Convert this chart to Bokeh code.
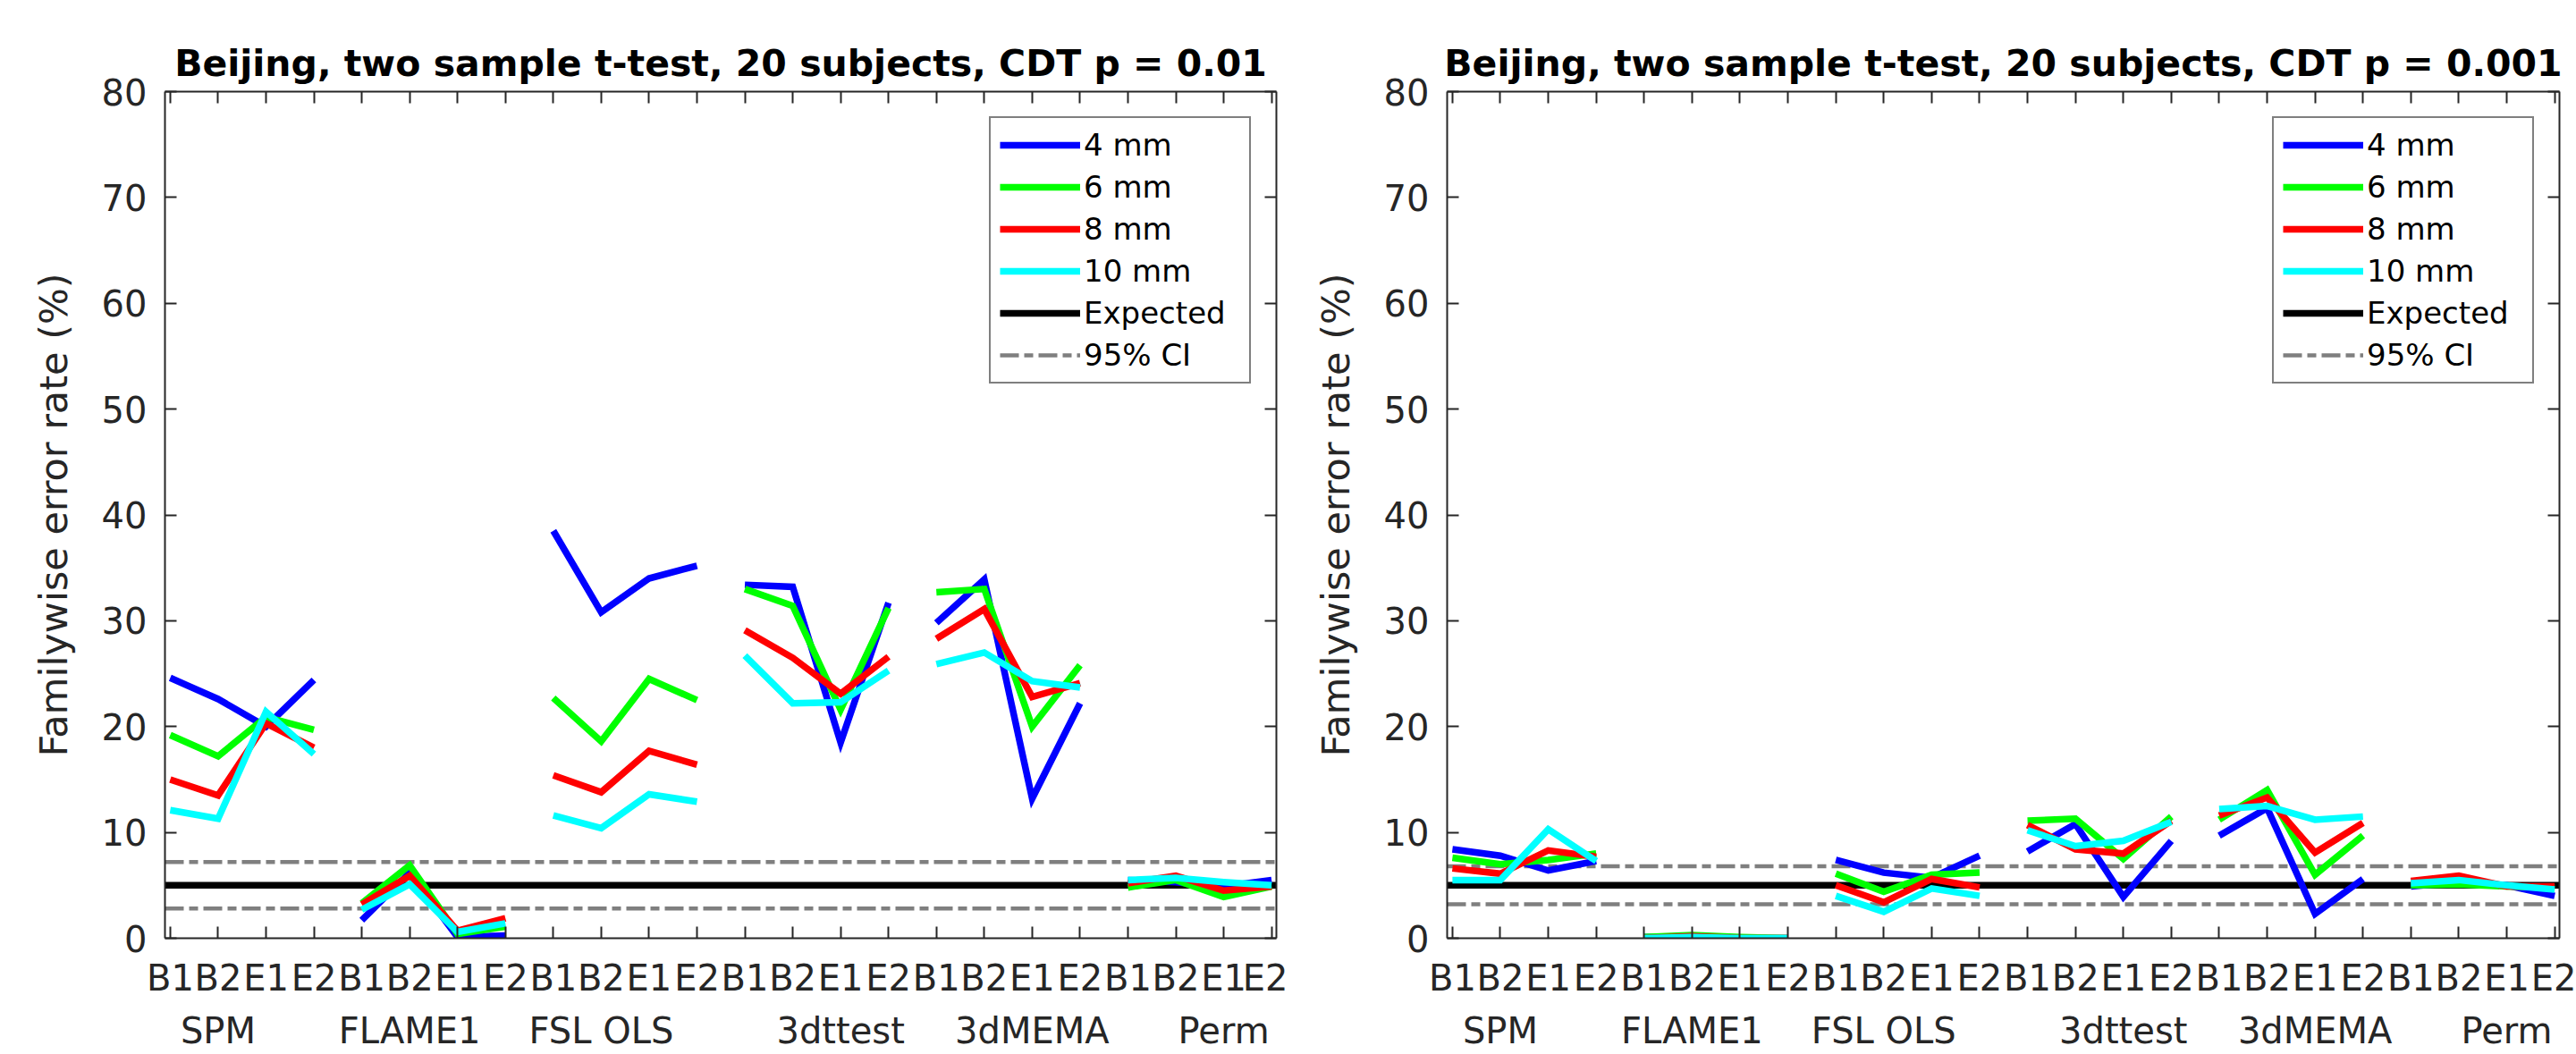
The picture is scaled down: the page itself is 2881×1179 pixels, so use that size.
from bokeh.plotting import figure
from bokeh.models import Range1d, LinearAxis, FixedTicker, Legend, LegendItem
from bokeh.layouts import row
from bokeh.embed import file_html
from bokeh.resources import INLINE

# ---------------- data ----------------
methods = ["SPM", "FLAME1", "FSL OLS", "3dttest", "3dMEMA", "Perm"]
conditions = ["B1", "B2", "E1", "E2"]
group_label_tick = [2, 6, 10, 15, 19, 23]   # tick under which each method name sits
smoothing_labels = ["4 mm", "6 mm", "8 mm", "10 mm"]
series_colors = ["#0000ff", "#00ff00", "#ff0000", "#00ffff"]
y_ticks = [0, 10, 20, 30, 40, 50, 60, 70, 80]

expected_rate = 5.0
ci_p01 = [2.8, 7.2]
ci_p001 = [3.2, 6.8]

# CDT p = 0.01  (SPM, FLAME1, FSL OLS, 3dttest, 3dMEMA, Perm) x (B1, B2, E1, E2)
p01_4mm = [24.6, 22.6, 20.0, 24.4,  1.7, 6.2, 0.1, 0.25,  38.5, 30.8, 34.0, 35.2,
           33.4, 33.2, 18.5, 31.7,  29.8, 33.9, 13.2, 22.2,  5.5, 5.3, 4.9, 5.5]
p01_6mm = [19.2, 17.2, 20.9, 19.7,  3.3, 6.9, 0.4, 1.1,  22.7, 18.6, 24.5, 22.5,
           33.0, 31.4, 21.6, 31.2,  32.7, 33.0, 20.0, 25.8,  4.8, 5.5, 3.9, 4.9]
p01_8mm = [15.0, 13.5, 20.3, 18.0,  3.2, 5.9, 0.7, 1.9,  15.4, 13.8, 17.7, 16.4,
           29.1, 26.5, 23.1, 26.6,  28.3, 31.1, 22.8, 24.1,  5.2, 5.9, 4.5, 4.9]
p01_10mm = [12.1, 11.3, 21.4, 17.4,  2.7, 5.1, 0.6, 1.4,  11.6, 10.4, 13.6, 12.9,
            26.7, 22.2, 22.3, 25.3,  25.9, 27.0, 24.3, 23.7,  5.5, 5.7, 5.3, 5.0]

# CDT p = 0.001
p001_4mm = [8.4, 7.8, 6.4, 7.3,  0.1, 0.1, 0.0, 0.0,  7.4, 6.2, 5.7, 7.8,
            8.2, 10.8, 3.9, 9.2,  9.7, 12.3, 2.3, 5.6,  4.9, 5.3, 5.0, 4.0]
p001_6mm = [7.6, 7.0, 7.4, 8.0,  0.1, 0.3, 0.1, 0.0,  6.1, 4.4, 6.0, 6.2,
            11.1, 11.3, 7.5, 11.5,  11.2, 14.0, 6.0, 9.7,  5.0, 5.1, 4.9, 4.8]
p001_8mm = [6.6, 6.1, 8.3, 7.7,  0.0, 0.2, 0.0, 0.0,  5.0, 3.4, 5.6, 4.8,
            10.7, 8.4, 8.0, 11.1,  11.6, 13.3, 8.1, 10.9,  5.4, 5.9, 4.9, 4.9]
p001_10mm = [5.5, 5.5, 10.3, 7.3,  0.0, 0.1, 0.0, 0.0,  4.0, 2.5, 4.7, 4.0,
             10.2, 8.7, 9.2, 11.0,  12.2, 12.5, 11.2, 11.5,  5.2, 5.5, 5.0, 4.6]

# ---------------- style ----------------
FONT = "DejaVu Sans"
TXT = "#262626"
X_LO, X_HI = 0.89, 24.1
Y_LO, Y_HI = 0, 80
n_pos = len(methods) * len(conditions)
x_ticks = list(range(1, n_pos + 1))
x_tick_labels = {i: conditions[(i - 1) % len(conditions)] for i in x_ticks}
for t, m in zip(group_label_tick, methods):
    x_tick_labels[t] = x_tick_labels[t] + "\n" + m


def style_axis(ax, ticks, show_labels, overrides=None):
    ax.ticker = FixedTicker(ticks=ticks)
    ax.axis_line_color = TXT
    ax.axis_line_width = 2
    ax.major_tick_line_color = TXT
    ax.major_tick_line_width = 2
    ax.major_tick_in = 13
    ax.major_tick_out = 0
    ax.minor_tick_line_color = None
    ax.major_label_text_font = FONT
    ax.major_label_text_color = TXT
    if overrides:
        ax.major_label_overrides = overrides
    if show_labels:
        ax.major_label_text_font_size = "40px"
        ax.major_label_standoff = 20
    else:
        ax.major_label_text_font_size = "0px"
        ax.major_label_text_color = None
        ax.major_label_standoff = 0


def make_panel(title, series, ci, frame_w, b_left, b_right):
    p = figure(frame_width=frame_w, frame_height=947, x_range=Range1d(X_LO, X_HI),
               y_range=Range1d(Y_LO, Y_HI), output_backend="svg",
               toolbar_location=None, min_border_left=b_left,
               min_border_right=b_right, min_border_top=102,
               min_border_bottom=130)
    p.background_fill_color = "white"
    p.border_fill_color = "white"
    p.outline_line_color = None
    p.xgrid.visible = False
    p.ygrid.visible = False

    p.title.text = title
    p.title.align = "center"
    p.title.text_font = FONT
    p.title.text_font_size = "41px"
    p.title.text_font_style = "bold"
    p.title.text_color = "black"
    p.title.standoff = 16

    xa = p.xaxis[0]
    style_axis(xa, x_ticks, True, x_tick_labels)
    xa.major_label_standoff = 21
    xa.major_label_text_line_height = 1.3

    ya = p.yaxis[0]
    style_axis(ya, y_ticks, True)
    ya.axis_label = "Familywise error rate (%)"
    ya.axis_label_text_font = FONT
    ya.axis_label_text_font_size = "43px"
    ya.axis_label_text_font_style = "normal"
    ya.axis_label_text_color = TXT
    ya.axis_label_standoff = 26

    top = LinearAxis()
    style_axis(top, x_ticks, False)
    p.add_layout(top, "above")
    right = LinearAxis()
    style_axis(right, y_ticks, False)
    p.add_layout(right, "right")

    # expected rate and its 95% CI (span the x range)
    r_ci = p.multi_line(xs=[[X_LO, X_HI], [X_LO, X_HI]],
                        ys=[[ci[0], ci[0]], [ci[1], ci[1]]],
                        line_color="#7f7f7f", line_width=4.5,
                        line_dash="21 6 10 6")
    r_exp = p.line(x=[X_LO, X_HI], y=[expected_rate, expected_rate],
                   line_color="black", line_width=7.5)

    items = []
    ng = len(conditions)
    for vals, color, lbl in zip(series, series_colors, smoothing_labels):
        xs = [x_ticks[g * ng:(g + 1) * ng] for g in range(len(methods))]
        ys = [vals[g * ng:(g + 1) * ng] for g in range(len(methods))]
        r = p.multi_line(xs=xs, ys=ys, line_color=color, line_width=7.5,
                         line_join="miter")
        items.append(LegendItem(label=lbl, renderers=[r]))
    items.append(LegendItem(label="Expected", renderers=[r_exp]))
    items.append(LegendItem(label="95% CI", renderers=[r_ci]))

    leg = Legend(items=items, location="top_right", margin=28, padding=10,
                 spacing=7, glyph_width=90, glyph_height=34, label_height=34,
                 label_width=175, label_standoff=4, label_text_font=FONT,
                 label_text_font_size="34px", label_text_color="black",
                 border_line_color="black", border_line_width=2,
                 background_fill_color="white", background_fill_alpha=1.0)
    p.add_layout(leg)
    return p


p1 = make_panel("Beijing, two sample t-test, 20 subjects, CDT p = 0.01",
                [p01_4mm, p01_6mm, p01_8mm, p01_10mm], ci_p01, 1243, 184, 13)
p2 = make_panel("Beijing, two sample t-test, 20 subjects, CDT p = 0.001",
                [p001_4mm, p001_6mm, p001_8mm, p001_10mm], ci_p001, 1244, 178, 19)

layout = row(p1, p2)
open("out.html", "w").write(file_html(layout, INLINE))
